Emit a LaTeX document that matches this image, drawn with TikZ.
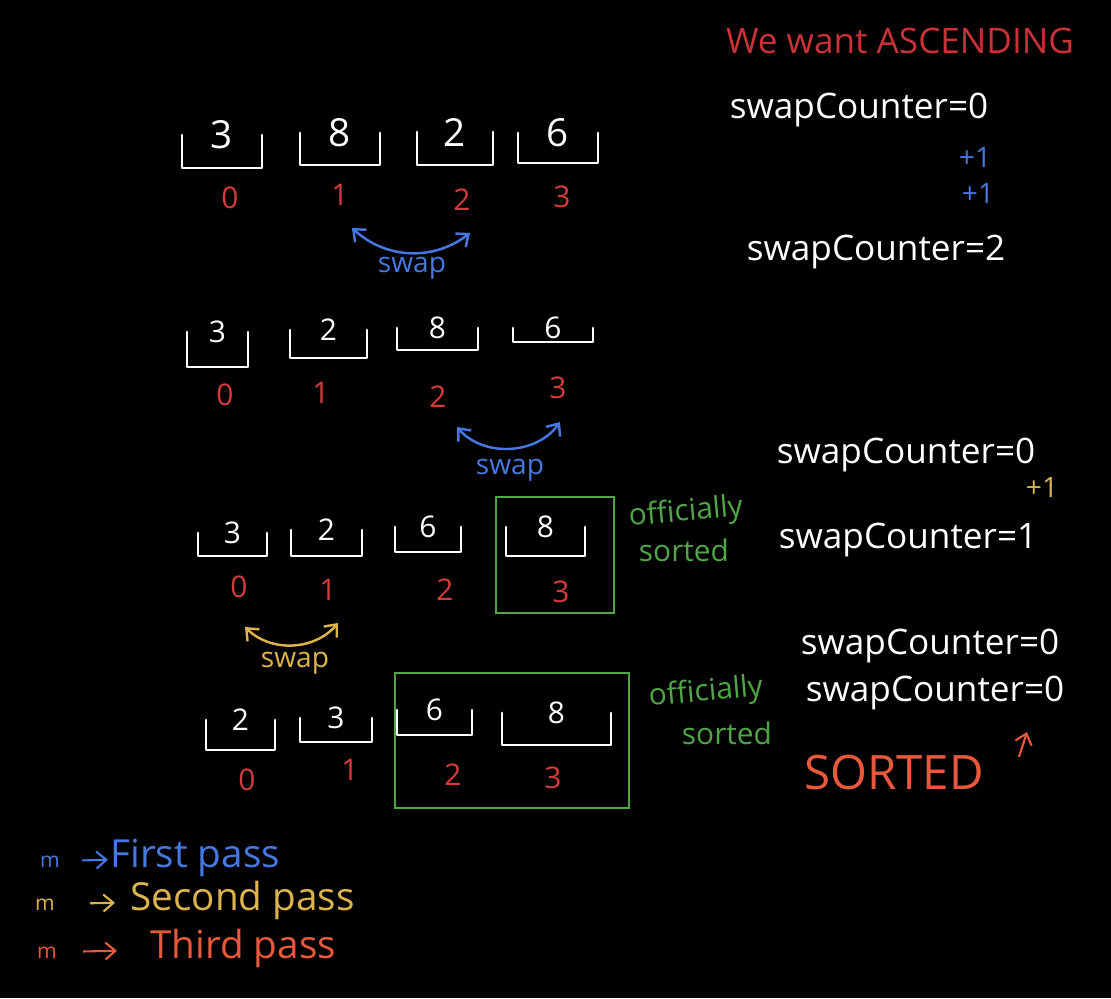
\documentclass[tikz,border=0pt]{standalone}
\usepackage{fontspec}
\setmainfont{Open Sans}
\usetikzlibrary{arrows.meta,positioning}
\definecolor{idxred}{RGB}{212,60,60}
\definecolor{passblue}{RGB}{70,120,225}
\definecolor{passyellow}{RGB}{220,180,75}
\definecolor{passorange}{RGB}{232,88,58}
\definecolor{titlered}{RGB}{200,50,55}
\definecolor{sortgreen}{RGB}{80,165,70}
\begin{document}
\begin{tikzpicture}[
    x=0.02cm, y=-0.02cm,
    >={Straight Barb[length=2mm,width=3.4mm]},
    bracket/.style={white, line width=1.6pt, line cap=round, line join=round},
    cellbox/.style={inner sep=0pt, outer sep=0pt},
    cellnum/.style={text=white, anchor=center, inner sep=0pt},
    idx/.style={text=idxred, font=\fontsize{17}{20}\selectfont},
    swaparrow/.style={<->, line width=1.4pt},
    swaplabel/.style={font=\fontsize{16}{19}\selectfont},
    counter/.style={text=white, font=\fontsize{20}{24}\selectfont},
    plusone/.style={font=\fontsize{16}{19}\selectfont, inner sep=1pt},
    sortbox/.style={draw=sortgreen, line width=1.3pt, inner sep=0pt},
    note/.style={text=sortgreen, font=\fontsize{17}{20}\selectfont},
    legend/.style={font=\fontsize{22}{26}\selectfont, anchor=base west, inner sep=0pt},
    legmark/.style={font=\fontsize{12}{14}\selectfont, anchor=base, inner sep=0pt},
    legarrow/.style={->, line width=1.2pt}
]
  % background
  \fill[black] (0,0) rectangle (1111,998);

  % cells of the four arrays
  \foreach \n/\x/\y/\w/\h/\v/\f in {
      r1c1/222/151.5/80/33/3/22, r1c2/340/149/80/32/8/22,
      r1c3/455/148.5/76/33/2/22, r1c4/558/148/80/30/6/22,
      r2c1/217.5/349.5/61/35/3/17, r2c2/328.5/344/77/28/2/17,
      r2c3/437.5/339/81/22/8/17, r2c4/553/335/80/14/6/17,
      r3c1/232.5/544.5/69/23/3/17, r3c2/326.5/543/71/26/2/17,
      r3c3/428/539.5/66/25/6/17, r3c4/545.5/541.5/79/29/8/17,
      r4c1/240.5/735/69/30/2/17, r4c2/336/730/72/24/3/17,
      r4c3/434.5/722.5/75/25/6/17, r4c4/556.5/729/109/32/8/17}
    \node[cellbox, minimum width=\w*0.02cm, minimum height=\h*0.02cm,
          label={[cellnum, font=\fontsize{\f}{\f}\selectfont]north:\v}] (\n) at (\x,\y) {};
  \foreach \n in {r1c1,r1c2,r1c3,r1c4,r2c1,r2c2,r2c3,r2c4,
                  r3c1,r3c2,r3c3,r3c4,r4c1,r4c2,r4c3,r4c4}
    \draw[bracket] (\n.north west) -- (\n.south west) -- (\n.south east) -- (\n.north east);

  % indices
  \foreach \n/\x/\y/\v in {
      r1i0/230/198/0, r1i1/340/195/1, r1i2/462/200/2, r1i3/562/197/3,
      r2i0/225/395/0, r2i1/321/393/1, r2i2/438/397/2, r2i3/558/388/3,
      r3i0/239/587/0, r3i1/328/590/1, r3i2/445/590/2, r3i3/561/592/3,
      r4i0/247/780/0, r4i1/350/770/1, r4i2/453/775/2, r4i3/553/778/3}
    \node[idx] (\n) at (\x,\y) {\v};

  % swaps
  \draw[swaparrow, passblue] ([shift={(12,33)}]r1i1.center) to[bend right=40] ([shift={(8,33)}]r1i2.center);
  \node[swaplabel, text=passblue] (swap1) at (412,268) {swap};
  \draw[swaparrow, passblue] ([shift={(19,30)}]r2i2.center) to[bend right=52] ([shift={(2,34)}]r2i3.center);
  \node[swaplabel, text=passblue] (swap2) at (510,470) {swap};
  \draw[swaparrow, passyellow] ([shift={(6,40)}]r3i0.center) to[bend right=47] ([shift={(10,33)}]r3i1.center);
  \node[swaplabel, text=passyellow] (swap3) at (295,663) {swap};

  % sorted part
  \node[sortbox, minimum width=118*0.02cm, minimum height=116*0.02cm] (done1) at (555,555) {};
  \node[note, rotate=5] (off1) at (686,513) {officially};
  \node[note] (srt1) at (684,550) {sorted};
  \node[sortbox, minimum width=234*0.02cm, minimum height=135*0.02cm] (done2) at (512,740.5) {};
  \node[note, rotate=5] (off2) at (706,693) {officially};
  \node[note] (srt2) at (727,733) {sorted};

  % counters
  \node[text=titlered, font=\fontsize{20}{24}\selectfont] (title) at (900,41) {We want ASCENDING};
  \node[counter] (cnt1a) at (859,110) {swapCounter=0};
  \node[plusone, text=passblue] (plus1a) at (975,157) {+1};
  \node[plusone, text=passblue] (plus1b) at (978,193) {+1};
  \node[counter] (cnt1b) at (876,252) {swapCounter=2};
  \node[counter] (cnt2a) at (906,455) {swapCounter=0};
  \node[plusone, text=passyellow] (plus2) at (1042,487) {+1};
  \node[counter] (cnt2b) at (908,540) {swapCounter=1};
  \node[counter] (cnt3a) at (930,646) {swapCounter=0};
  \node[counter] (cnt3b) at (935,693) {swapCounter=0};
  \node[text=passorange, font=\fontsize{27}{30}\selectfont] (sorted) at (894,773) {SORTED};
  \coordinate (sortedtip) at (1027,732);
  \draw[legarrow, passorange] ([shift={(29,-16)}]sorted.east) -- (sortedtip);

  % legend
  \node[legmark, text=passblue] (m1) at (50,867) {m};
  \node[legend, text=passblue] (l1) at (110,867) {First pass};
  \draw[legarrow, passblue, shorten <=0.44cm, shorten >=0.04cm] (m1) -- (l1);
  \node[legmark, text=passyellow] (m2) at (45,910) {m};
  \node[legend, text=passyellow] (l2) at (130,910) {Second pass};
  \draw[legarrow, passyellow, shorten <=0.7cm, shorten >=0.3cm] (m2) -- (l2);
  \node[legmark, text=passorange] (m3) at (47,958) {m};
  \node[legend, text=passorange] (l3) at (150,958) {Third pass};
  \draw[legarrow, passorange, shorten <=0.52cm, shorten >=0.66cm] (m3) -- (l3);
\end{tikzpicture}
\end{document}
